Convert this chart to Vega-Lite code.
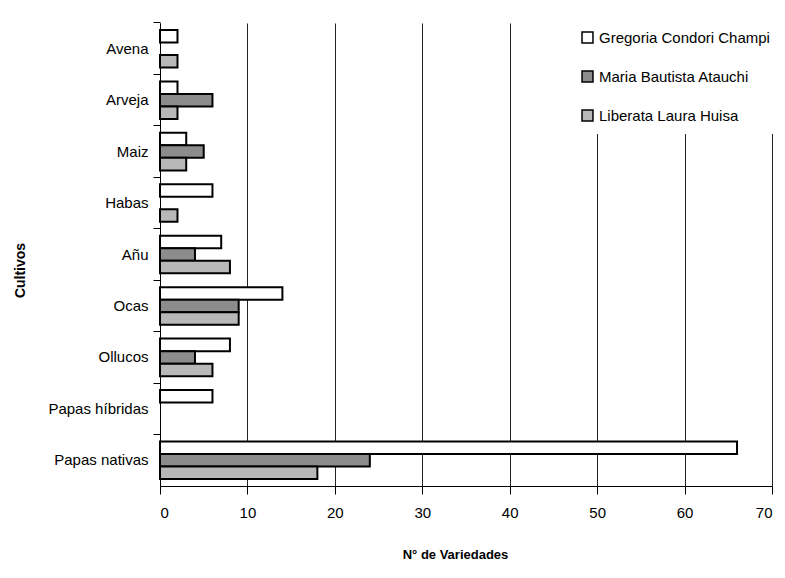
{
  "$schema": "https://vega.github.io/schema/vega-lite/v6.json",
  "width": 612,
  "height": 463,
  "autosize": {"type": "none"},
  "padding": {"left": 160, "top": 23, "right": 13, "bottom": 92},
  "background": "white",
  "data": {
    "values": [
      {"cultivo": "Avena", "agricultora": "Gregoria Condori Champi", "variedades": 2},
      {"cultivo": "Avena", "agricultora": "Maria Bautista Atauchi", "variedades": 0},
      {"cultivo": "Avena", "agricultora": "Liberata Laura Huisa", "variedades": 2},
      {"cultivo": "Arveja", "agricultora": "Gregoria Condori Champi", "variedades": 2},
      {"cultivo": "Arveja", "agricultora": "Maria Bautista Atauchi", "variedades": 6},
      {"cultivo": "Arveja", "agricultora": "Liberata Laura Huisa", "variedades": 2},
      {"cultivo": "Maiz", "agricultora": "Gregoria Condori Champi", "variedades": 3},
      {"cultivo": "Maiz", "agricultora": "Maria Bautista Atauchi", "variedades": 5},
      {"cultivo": "Maiz", "agricultora": "Liberata Laura Huisa", "variedades": 3},
      {"cultivo": "Habas", "agricultora": "Gregoria Condori Champi", "variedades": 6},
      {"cultivo": "Habas", "agricultora": "Maria Bautista Atauchi", "variedades": 0},
      {"cultivo": "Habas", "agricultora": "Liberata Laura Huisa", "variedades": 2},
      {"cultivo": "Añu", "agricultora": "Gregoria Condori Champi", "variedades": 7},
      {"cultivo": "Añu", "agricultora": "Maria Bautista Atauchi", "variedades": 4},
      {"cultivo": "Añu", "agricultora": "Liberata Laura Huisa", "variedades": 8},
      {"cultivo": "Ocas", "agricultora": "Gregoria Condori Champi", "variedades": 14},
      {"cultivo": "Ocas", "agricultora": "Maria Bautista Atauchi", "variedades": 9},
      {"cultivo": "Ocas", "agricultora": "Liberata Laura Huisa", "variedades": 9},
      {"cultivo": "Ollucos", "agricultora": "Gregoria Condori Champi", "variedades": 8},
      {"cultivo": "Ollucos", "agricultora": "Maria Bautista Atauchi", "variedades": 4},
      {"cultivo": "Ollucos", "agricultora": "Liberata Laura Huisa", "variedades": 6},
      {"cultivo": "Papas híbridas", "agricultora": "Gregoria Condori Champi", "variedades": 6},
      {"cultivo": "Papas híbridas", "agricultora": "Maria Bautista Atauchi", "variedades": 0},
      {"cultivo": "Papas híbridas", "agricultora": "Liberata Laura Huisa", "variedades": 0},
      {"cultivo": "Papas nativas", "agricultora": "Gregoria Condori Champi", "variedades": 66},
      {"cultivo": "Papas nativas", "agricultora": "Maria Bautista Atauchi", "variedades": 24},
      {"cultivo": "Papas nativas", "agricultora": "Liberata Laura Huisa", "variedades": 18}
    ]
  },
  "transform": [{"filter": "datum.variedades > 0"}],
  "mark": {"type": "bar", "stroke": "black", "strokeWidth": 2},
  "encoding": {
    "y": {
      "field": "cultivo",
      "type": "nominal",
      "sort": ["Avena", "Arveja", "Maiz", "Habas", "Añu", "Ocas", "Ollucos", "Papas híbridas", "Papas nativas"],
      "scale": {"paddingInner": 0.27, "paddingOuter": 0.135},
      "axis": {
        "title": "Cultivos",
        "titleFont": "Liberation Sans",
        "titleFontSize": 14,
        "titleFontWeight": "bold",
        "titleColor": "black",
        "titleX": -133,
        "titleY": 247,
        "labelFont": "Liberation Sans",
        "labelFontSize": 15,
        "labelColor": "black",
        "labelPadding": 5,
        "bandPosition": -0.185,
        "tickColor": "black",
        "tickSize": 7,
        "domainColor": "black",
        "grid": false
      }
    },
    "yOffset": {
      "field": "agricultora",
      "type": "nominal",
      "scale": {"domain": ["Gregoria Condori Champi", "Maria Bautista Atauchi", "Liberata Laura Huisa"]}
    },
    "x": {
      "field": "variedades",
      "type": "quantitative",
      "scale": {"domain": [0, 70], "nice": false},
      "axis": {
        "title": "N° de Variedades",
        "titleFont": "Liberation Sans",
        "titleFontSize": 13,
        "titleFontWeight": "bold",
        "titleColor": "black",
        "titleX": 295,
        "titleY": 62,
        "labelFont": "Liberation Sans",
        "labelFontSize": 15,
        "labelColor": "black",
        "labelPadding": 11,
        "values": [0, 10, 20, 30, 40, 50, 60, 70],
        "tickColor": "black",
        "tickSize": 8,
        "domainColor": "black",
        "grid": true,
        "gridColor": "#222222",
        "gridWidth": 1
      }
    },
    "fill": {
      "field": "agricultora",
      "type": "nominal",
      "scale": {
        "domain": ["Gregoria Condori Champi", "Maria Bautista Atauchi", "Liberata Laura Huisa"],
        "range": ["white", "#8c8c8c", "#b8b8b8"]
      },
      "legend": {
        "orient": "none",
        "legendX": 410,
        "legendY": -3,
        "title": null,
        "fillColor": "white",
        "padding": 10,
        "symbolType": "square",
        "symbolSize": 120,
        "symbolStrokeColor": "black",
        "symbolStrokeWidth": 1.5,
        "labelFont": "Liberation Sans",
        "labelFontSize": 15,
        "labelColor": "black",
        "labelLimit": 300,
        "rowPadding": 22
      }
    }
  },
  "config": {"view": {"stroke": null}}
}
